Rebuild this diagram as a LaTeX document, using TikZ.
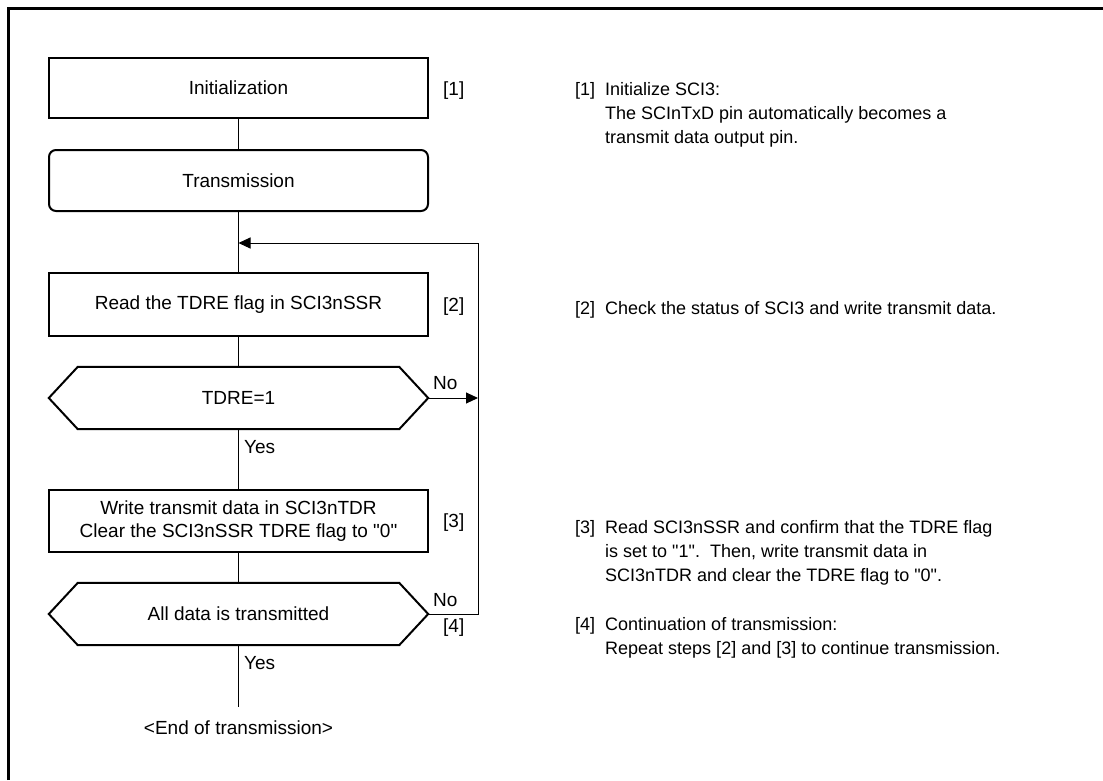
\documentclass[tikz,border=0pt]{standalone}
\usepackage{fontspec}
\setmainfont{Liberation Sans}
\usetikzlibrary{arrows.meta}
\begin{document}
\begin{tikzpicture}[x=1pt,y=-1pt,
  boxfont/.style={font=\fontsize{19}{23}\selectfont},
  notefont/.style={font=\fontsize{18}{24}\selectfont},
  procbox/.style={draw, line width=2pt, minimum width=379pt, inner sep=0pt, boxfont, align=center},
  hexbox/.style={minimum width=379pt, inner sep=0pt, boxfont, align=center},
  hexline/.style={line width=2pt, line join=miter},
  conn/.style={line width=1pt},
  arr/.style={line width=1pt, -{Triangle[length=12pt,width=11pt]}},
  lbl/.style={boxfont, inner sep=0pt, anchor=west},
  note/.style={notefont, inner sep=0pt, anchor=base west}]
\useasboundingbox (0,0) rectangle (1103,780);
% frame
\draw[line width=3pt] (8,780) -- (8,8) -- (1103,8);

% boxes
\node[procbox, minimum height=60pt] (init) at (238.5,88) {Initialization};
\node[procbox, minimum height=61pt, rounded corners=7pt] (trans) at (238.5,180.5) {Transmission};
\node[procbox, minimum height=63pt] (read) at (238.5,304.5) {Read the TDRE flag in SCI3nSSR};
\node[hexbox, minimum height=62pt] (d1) at (238.5,398) {TDRE=1};
\draw[hexline] (d1.west) -- ([xshift=29pt]d1.north west) -- ([xshift=-29pt]d1.north east) -- (d1.east) -- ([xshift=-29pt]d1.south east) -- ([xshift=29pt]d1.south west) -- cycle;
\node[procbox, minimum height=62pt] (write) at (238.5,521) {Write transmit data in SCI3nTDR\\Clear the SCI3nSSR TDRE flag to \textquotedbl 0\textquotedbl};
\node[hexbox, minimum height=62pt] (d2) at (238.5,614) {All data is transmitted};
\draw[hexline] (d2.west) -- ([xshift=29pt]d2.north west) -- ([xshift=-29pt]d2.north east) -- (d2.east) -- ([xshift=-29pt]d2.south east) -- ([xshift=29pt]d2.south west) -- cycle;
\node[boxfont, inner sep=0pt] (endt) at (238.5,728) {<End of transmission>};

% coordinates
\coordinate (join) at (238.5,243);
\coordinate (loopTop) at (478,243);
\coordinate (loopMid) at (478,398);
\coordinate (loopBot) at (478,614);
\coordinate (endLine) at (238.5,707);

% connectors
\draw[conn] (init.south) -- (trans.north);
\draw[conn] (trans.south) -- (read.north);
\draw[conn] (read.south) -- (d1.north);
\draw[conn] (d1.south) -- (write.north);
\draw[conn] (write.south) -- (d2.north);
\draw[conn] (d2.south) -- (endLine);
\draw[arr] (d1.east) -- (loopMid);
\draw[conn] (d2.east) -- (loopBot) -- (loopTop);
\draw[arr] (loopTop) -- (join);

% labels on flow
\node[lbl] (n1) at (433,383) {No};
\node[lbl] (y1) at (244,447) {Yes};
\node[lbl] (n2) at (433,600) {No};
\node[lbl] (y2) at (244,663) {Yes};
\node[lbl] (s1) at (443,91) {[1]};
\node[lbl] (s2) at (443,307) {[2]};
\node[lbl] (s3) at (443,523) {[3]};
\node[lbl] (s4) at (443,628) {[4]};

% notes
\node[note] (t1a) at (575,95) {[1]};
\node[note] (t1b) at (605,95) {Initialize SCI3:};
\node[note] (t1c) at (605,119) {The SCInTxD pin automatically becomes a};
\node[note] (t1d) at (605,143) {transmit data output pin.};
\node[note] (t2a) at (575,314) {[2]};
\node[note] (t2b) at (605,314) {Check the status of SCI3 and write transmit data.};
\node[note] (t3a) at (575,533) {[3]};
\node[note] (t3b) at (605,533) {Read SCI3nSSR and confirm that the TDRE flag};
\node[note] (t3c) at (605,557) {is set to \textquotedbl 1\textquotedbl.\ \ Then, write transmit data in};
\node[note] (t3d) at (605,581) {SCI3nTDR and clear the TDRE flag to \textquotedbl 0\textquotedbl.};
\node[note] (t4a) at (575,630) {[4]};
\node[note] (t4b) at (605,630) {Continuation of transmission:};
\node[note] (t4c) at (605,654) {Repeat steps [2] and [3] to continue transmission.};
\end{tikzpicture}
\end{document}
